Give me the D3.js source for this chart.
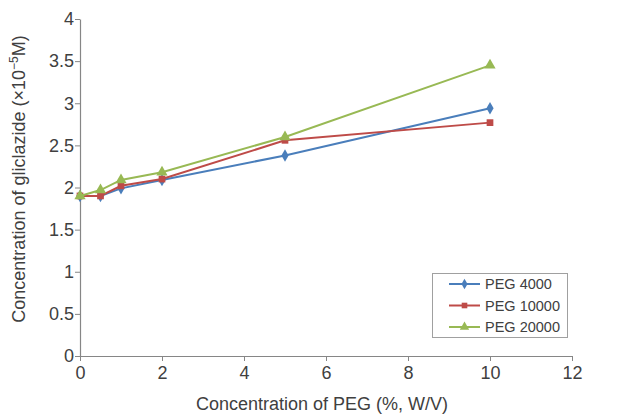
<!DOCTYPE html>
<html><head><meta charset="utf-8">
<script src="https://cdn.jsdelivr.net/npm/d3@7"></script>
<style>body{margin:0;background:#fff}text{font-family:"Liberation Sans",Arial,sans-serif}</style>
</head><body><svg id="c" width="627" height="414"></svg>
<script>
const xValues = [0, 0.5, 1, 2, 5, 10];
const peg4000 = [1.9, 1.9, 1.99, 2.09, 2.38, 2.94];
const peg10000 = [1.9, 1.9, 2.02, 2.10, 2.56, 2.77];
const peg20000 = [1.9, 1.97, 2.09, 2.18, 2.60, 3.45];
const seriesNames = ["PEG 4000", "PEG 10000", "PEG 20000"];
const xTicks = [0, 2, 4, 6, 8, 10, 12];
const yTicks = [0, 0.5, 1, 1.5, 2, 2.5, 3, 3.5, 4];
const colors = ["#4A7EBB", "#BE4B48", "#98B954"];
const symbols = [d3.symbolDiamond, d3.symbolSquare, d3.symbolTriangle];

const svg = d3.select("#c");
const x = d3.scaleLinear().domain([0, 12]).range([80, 572]);
const y = d3.scaleLinear().domain([0, 4]).range([356, 19]);
const axisColor = "#868686", textColor = "#404040";

const gx = svg.append("g").attr("transform", "translate(0,356)")
  .call(d3.axisBottom(x).tickValues(xTicks).tickSize(5).tickSizeOuter(0).tickFormat(d3.format("d")));
const gy = svg.append("g").attr("transform", "translate(80,0)")
  .call(d3.axisLeft(y).tickValues(yTicks).tickSize(5).tickSizeOuter(0).tickFormat(d => d));
[gx, gy].forEach(g => {
  g.select(".domain").attr("stroke", axisColor).attr("stroke-width", 1.2);
  g.selectAll(".tick line").attr("stroke", axisColor);
  g.selectAll(".tick text").attr("fill", textColor).attr("font-size", 18);
});
gx.selectAll(".tick text").attr("dy", "0.85em");
gy.selectAll(".tick text").attr("x", -6);

svg.append("text").attr("x", 322).attr("y", 410).attr("text-anchor", "middle")
  .attr("fill", textColor).attr("font-size", 18).text("Concentration of PEG (%, W/V)");
const yl = svg.append("text").attr("transform", "translate(25,179) rotate(-90)")
  .attr("text-anchor", "middle").attr("fill", textColor).attr("font-size", 18);
yl.append("tspan").text("Concentration of gliclazide (×10");
yl.append("tspan").attr("font-size", 12).attr("dy", -7).text("−5");
yl.append("tspan").attr("dy", 7).text("M)");

const data = [peg4000, peg10000, peg20000];
const line = d3.line().x((d, i) => x(xValues[i])).y(d => y(d));
const sizes = [45, 45, 55];
data.forEach((vals, s) => {
  svg.append("path").datum(vals).attr("d", line).attr("fill", "none")
    .attr("stroke", colors[s]).attr("stroke-width", 2);
  svg.selectAll(null).data(vals).enter().append("path")
    .attr("d", d3.symbol().type(symbols[s]).size(sizes[s]))
    .attr("transform", (d, i) => `translate(${x(xValues[i])},${y(d)})`)
    .attr("fill", colors[s]);
});

const lg = svg.append("g");
lg.append("rect").attr("x", 432.5).attr("y", 273.5).attr("width", 135).attr("height", 64)
  .attr("fill", "#fff").attr("stroke", "#A0A0A0");
seriesNames.forEach((n, s) => {
  const yy = 284 + s * 21.5;
  lg.append("line").attr("x1", 449).attr("x2", 480).attr("y1", yy).attr("y2", yy)
    .attr("stroke", colors[s]).attr("stroke-width", 2);
  lg.append("path").attr("d", d3.symbol().type(symbols[s]).size(sizes[s] * 0.7))
    .attr("transform", `translate(464.5,${yy})`).attr("fill", colors[s]);
  lg.append("text").attr("x", 485).attr("y", yy).attr("dy", "0.35em")
    .attr("font-size", 14.5).attr("fill", textColor).text(n);
});
</script></body></html>
